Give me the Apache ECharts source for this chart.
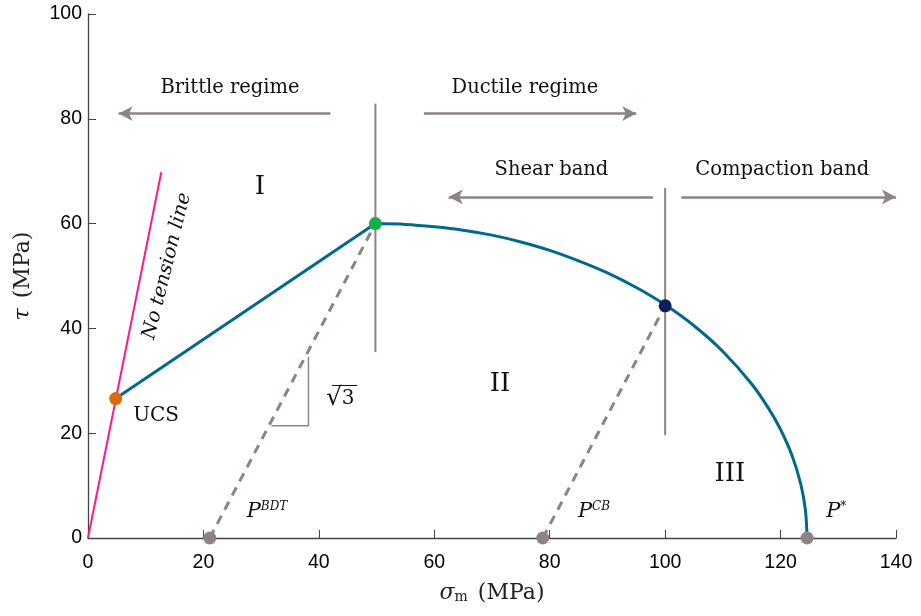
<!DOCTYPE html>
<html>
<head>
<meta charset="utf-8">
<script src="https://cdn.jsdelivr.net/npm/echarts@6/dist/echarts.min.js"></script>
<style>
  html, body { margin: 0; background: #fff; }
  #chart { width: 921px; height: 616px; }
</style>
</head>
<body>
<div id="chart"></div>
<script>
// values (MPa)
const tensionLine = [[0, 0], [12.7, 69.8]]
const ucsPoint = [4.8, 26.6]
const bdtPeak = [49.8, 60]
const cbPoint = [100, 44.3]
const capX = [49.8, 55, 60, 65, 70, 75, 80, 85, 90, 95, 100, 105, 110, 115, 118, 120, 122, 123.5, 124.3, 124.6]
const capY = [60, 59.85, 59.4, 58.75, 57.8, 56.5, 54.9, 52.9, 50.6, 47.8, 44.5, 40.5, 35.6, 29.4, 24.6, 20.7, 15.7, 10.3, 5.4, 0]
const pBDT = [21.1, 0]
const pCB = [78.8, 0]
const pStar = [124.6, 0]
const bdtDivider = [[49.8, 35.5], [49.8, 82.9]]
const cbDivider = [[100, 19.6], [100, 66.8]]
const slopeMark = [[31.8, 21.4], [38.2, 21.4], [38.2, 34.6]]
const rootBar = [[42.3, 29.1], [46.6, 29.1]]
const arrowLines = [
  [[42, 81], [5.3, 81]],
  [[58.2, 81], [95, 81]],
  [[97.9, 65.1], [62.5, 65.1]],
  [[102.8, 65.1], [140, 65.1]]
]
const regionText = ['I', 'II', 'III']
const regionAt = [[29.8, 67], [71.4, 29.3], [111.2, 12.2]]
const regimeText = ['Brittle regime', 'Ductile regime', 'Shear band', 'Compaction band']
const regimeAt = [[24.6, 85.9], [75.7, 85.9], [80.3, 70.2], [120.3, 70.2]]

const teal = '#02698c'
const grey = '#8e8383'
const ink = '#111'
const serif = 'DejaVu Serif'

let chart = echarts.init(document.getElementById('chart'))

let capLine = capX.map((x, i) => [x, capY[i]])

let pLabel = (sup, at) => ({
  value: at,
  label: {
    formatter: '{p|P}{s|' + sup + '}',
    align: 'left',
    rich: {
      p: { fontFamily: serif, fontStyle: 'italic', fontSize: 21, color: ink },
      s: { fontFamily: serif, fontStyle: 'italic', fontSize: 12, color: ink, verticalAlign: 'top' }
    }
  }
})

let textItems = []
regionText.forEach((t, i) => {
  textItems.push({ value: regionAt[i], label: { formatter: t, fontSize: 26 } })
})
regimeText.forEach((t, i) => {
  textItems.push({ value: regimeAt[i], label: { formatter: t, fontSize: 19.5 } })
})
textItems.push({ value: [11.8, 23.4], label: { formatter: 'UCS', fontSize: 20 } })
textItems.push({
  value: [43.7, 26.6],
  label: {
    formatter: '{r|\u221a}{n|3}',
    rich: {
      r: { fontFamily: serif, fontSize: 25, color: ink },
      n: { fontFamily: serif, fontSize: 20, color: ink }
    }
  }
})
textItems.push({ value: [13.7, 51.9], label: { formatter: 'No tension line', fontSize: 19.5, fontStyle: 'italic', rotate: 76 } })
textItems.push(pLabel('BDT', [27.5, 5.1]))
textItems.push(pLabel('CB', [84.9, 5.1]))
textItems.push(pLabel('*', [127.9, 5.1]))

let option = {
  animation: false,
  grid: { left: 88, right: 25, top: 14, bottom: 78 },
  xAxis: {
    type: 'value',
    min: 0,
    max: 140,
    interval: 20,
    name: '{s|σ}{m|m}{g| }{t|(MPa)}',
    nameLocation: 'middle',
    nameGap: 44,
    nameTextStyle: {
      rich: {
        s: { fontFamily: serif, fontStyle: 'italic', fontSize: 22, color: '#222' },
        m: { fontFamily: serif, fontSize: 14, color: '#222', verticalAlign: 'bottom' },
        g: { fontFamily: serif, fontSize: 22, width: 10 },
        t: { fontFamily: serif, fontSize: 22, color: '#222' }
      }
    },
    axisLine: { lineStyle: { color: '#444', width: 1.3 } },
    axisTick: { inside: true, length: 8, lineStyle: { color: '#444' } },
    axisLabel: { fontFamily: 'Liberation Sans', fontSize: 19.5, color: '#000', margin: 15 },
    splitLine: { show: false }
  },
  yAxis: {
    type: 'value',
    min: 0,
    max: 100,
    interval: 20,
    name: '{s|τ}{g| }{t|(MPa)}',
    nameLocation: 'middle',
    nameGap: 54,
    nameRotate: 90,
    nameTextStyle: {
      rich: {
        s: { fontFamily: serif, fontStyle: 'italic', fontSize: 22, color: '#222' },
        g: { fontFamily: serif, fontSize: 22, width: 10 },
        t: { fontFamily: serif, fontSize: 22, color: '#222' }
      }
    },
    axisLine: { show: true, lineStyle: { color: '#444', width: 1.3 } },
    axisTick: { show: true, inside: true, length: 8, lineStyle: { color: '#444' } },
    axisLabel: { fontFamily: 'Liberation Sans', fontSize: 19.5, color: '#000', margin: 6 },
    splitLine: { show: false }
  },
  series: [
    {
      type: 'line', data: [pBDT, bdtPeak], symbol: 'none',
      lineStyle: { color: grey, width: 3, type: [9, 7] }
    },
    {
      type: 'line', data: [pCB, cbPoint], symbol: 'none',
      lineStyle: { color: grey, width: 3, type: [9, 7] }
    },
    {
      type: 'line', data: slopeMark, symbol: 'none',
      lineStyle: { color: grey, width: 1.5 }
    },
    {
      type: 'line', data: rootBar, symbol: 'none',
      lineStyle: { color: ink, width: 1.2 }
    },
    {
      type: 'line', data: bdtDivider, symbol: 'none',
      lineStyle: { color: grey, width: 2 }
    },
    {
      type: 'line', data: cbDivider, symbol: 'none',
      lineStyle: { color: grey, width: 2 },
      markLine: {
        silent: true,
        symbol: ['none', 'arrow'],
        symbolSize: [11, 14],
        label: { show: false },
        lineStyle: { color: grey, width: 2.5, type: 'solid' },
        data: arrowLines.map(([a, b]) => [{ coord: a }, { coord: b }])
      }
    },
    {
      type: 'line', data: tensionLine, symbol: 'none',
      lineStyle: { color: '#fb1b8d', width: 2 }
    },
    {
      type: 'line', data: [ucsPoint, bdtPeak], symbol: 'none',
      lineStyle: { color: teal, width: 3 }
    },
    {
      type: 'line', data: capLine, symbol: 'none', smooth: 0.3,
      lineStyle: { color: teal, width: 3 }
    },
    {
      type: 'scatter', symbolSize: 13, z: 5,
      itemStyle: { opacity: 1 },
      data: [
        { value: ucsPoint, itemStyle: { color: '#da6a0e' } },
        { value: bdtPeak, itemStyle: { color: '#13b04b' } },
        { value: cbPoint, itemStyle: { color: '#0b1f5e' } },
        { value: pBDT, itemStyle: { color: grey } },
        { value: pCB, itemStyle: { color: grey } },
        { value: pStar, itemStyle: { color: grey } }
      ]
    },
    {
      type: 'scatter', symbolSize: 0, silent: true, z: 6,
      itemStyle: { opacity: 1 },
      label: { show: true, position: 'inside', fontFamily: serif, color: ink, textBorderWidth: 0, opacity: 1 },
      data: textItems
    }
  ]
}

chart.setOption(option)
</script>
</body>
</html>
